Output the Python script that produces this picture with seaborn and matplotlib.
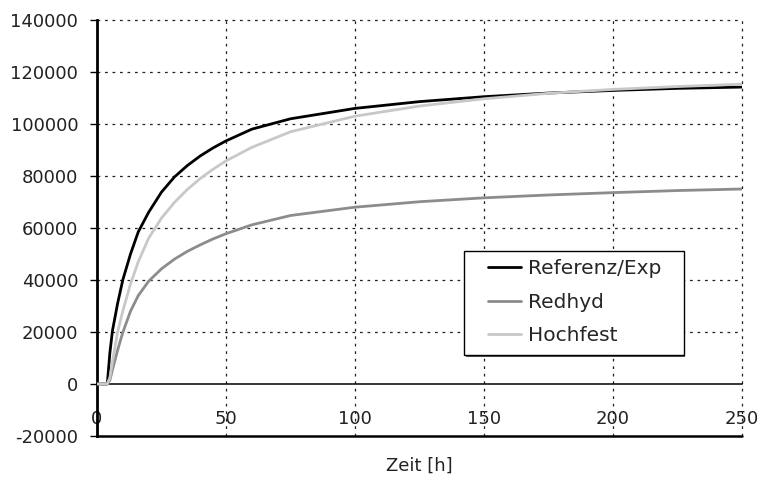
import matplotlib
matplotlib.use("Agg")
import matplotlib.pyplot as plt
from matplotlib.patches import Rectangle
from matplotlib.legend_handler import HandlerLine2D
import seaborn as sns
import pandas as pd

# Time axis [h] and the three strength curves
zeit = [0, 4, 5, 6, 8, 10, 13, 16, 20, 25, 30, 35, 40, 45, 50, 60, 75, 100, 125, 150, 175, 200, 225, 250]
referenz = [0, 0, 12000, 20500, 31000, 40000, 50000, 58500, 66000, 73800, 79600, 84000, 87700,
            90800, 93500, 98000, 102000, 106000, 108600, 110500, 111900, 112900, 113700, 114200]
redhyd = [0, 0, 1500, 5500, 13000, 19800, 28000, 34000, 39500, 44300, 48000, 51000, 53500,
          55800, 57800, 61200, 64800, 68000, 70100, 71600, 72700, 73600, 74400, 75000]
hochfest = [0, 0, 2500, 8500, 20000, 28000, 38500, 47000, 56000, 63800, 69800, 74800, 79000,
            82600, 85800, 91000, 97000, 103000, 106900, 109700, 111800, 113300, 114400, 115300]

series_names = ["Referenz/Exp", "Redhyd", "Hochfest"]
series_values = [referenz, redhyd, hochfest]
colors = {"Referenz/Exp": "#000000", "Redhyd": "#8c8c8c", "Hochfest": "#c8c8c8"}

x_ticks = [0, 50, 100, 150, 200, 250]
y_ticks = [-20000, 0, 20000, 40000, 60000, 80000, 100000, 120000, 140000]

sns.set_theme(style="white")
plt.rcParams["font.family"] = ["DejaVu Sans"]
plt.rcParams["font.size"] = 13

df = pd.concat(
    [pd.DataFrame({"Zeit": zeit, "Wert": vals, "Serie": name})
     for name, vals in zip(series_names, series_values)],
    ignore_index=True,
)

fig = plt.figure(figsize=(7.63, 4.84), dpi=100)
ax = fig.add_axes([0.1271, 0.0992, 0.8454, 0.8595])

grid_style = dict(color="#222222", linewidth=0.9, linestyle=(0, (2.2, 3.8)))
for xv in x_ticks[1:]:
    ax.axvline(xv, zorder=1, clip_on=False, **grid_style)
for yv in y_ticks[2:]:
    ax.axhline(yv, zorder=1, clip_on=False, **grid_style)

for name in series_names:
    sns.lineplot(data=df[df["Serie"] == name], x="Zeit", y="Wert", color=colors[name],
                 linewidth=2.0, label=name, sort=False, estimator=None, ax=ax, zorder=3)

ax.set_xlim(0, 250)
ax.set_ylim(-20000, 140000)
ax.set_xticks(x_ticks)
ax.set_xticklabels([str(v) for v in x_ticks])
ax.set_yticks(y_ticks)
ax.set_yticklabels([str(v) for v in y_ticks])

# x axis crosses at zero, frame closed at the lower limit
ax.spines["bottom"].set_position(("data", 0))
ax.spines["bottom"].set_linewidth(1.1)
ax.spines["bottom"].set_color("black")
ax.spines["left"].set_linewidth(2.0)
ax.spines["left"].set_color("black")
ax.spines["top"].set_visible(False)
ax.spines["right"].set_visible(False)
ax.axhline(-20000, color="black", linewidth=1.8, clip_on=False, zorder=2)

ax.tick_params(axis="x", length=0, pad=19, labelsize=13, colors="#222222")
ax.tick_params(axis="y", length=5, width=1, direction="out", left=True, pad=8.5,
               labelsize=13, colors="black", labelcolor="#222222")

ax.set_xlabel("Zeit [h]", fontsize=13, color="#222222", va="center")
ax.xaxis.set_label_coords(0.5, -0.072)
ax.set_ylabel("")

leg = ax.legend(loc="upper left", bbox_to_anchor=(0.569, 0.425), frameon=False,
                fontsize=14.5, handlelength=2.85, handletextpad=0.35, borderpad=0.0,
                labelspacing=0.72, borderaxespad=0,
                handler_map={plt.Line2D: HandlerLine2D(xpad=1.2)})
for line in leg.get_lines():
    line.set_linewidth(2.0)
leg.set_zorder(6)

# white legend box with a thin shadow, sized around the legend entries
fig.canvas.draw()
bb = leg.get_window_extent().transformed(fig.transFigure.inverted())
W, H = fig.get_size_inches() * fig.dpi
pad_x, pad_top, pad_bottom = 22 / W, 8 / H, 10 / H
x0, y0 = bb.x0, bb.y0 - pad_bottom
w, h = bb.width + pad_x, bb.height + pad_top + pad_bottom
shadow = Rectangle((x0 + 1.5 / W, y0 - 1.5 / H), w, h, transform=fig.transFigure,
                   facecolor="#555555", edgecolor="none", zorder=4, clip_on=False)
box = Rectangle((x0, y0), w, h, transform=fig.transFigure, facecolor="white",
                edgecolor="black", linewidth=1.0, zorder=5, clip_on=False)
ax.add_artist(shadow)
ax.add_artist(box)

fig.savefig("out.png", dpi=100)
